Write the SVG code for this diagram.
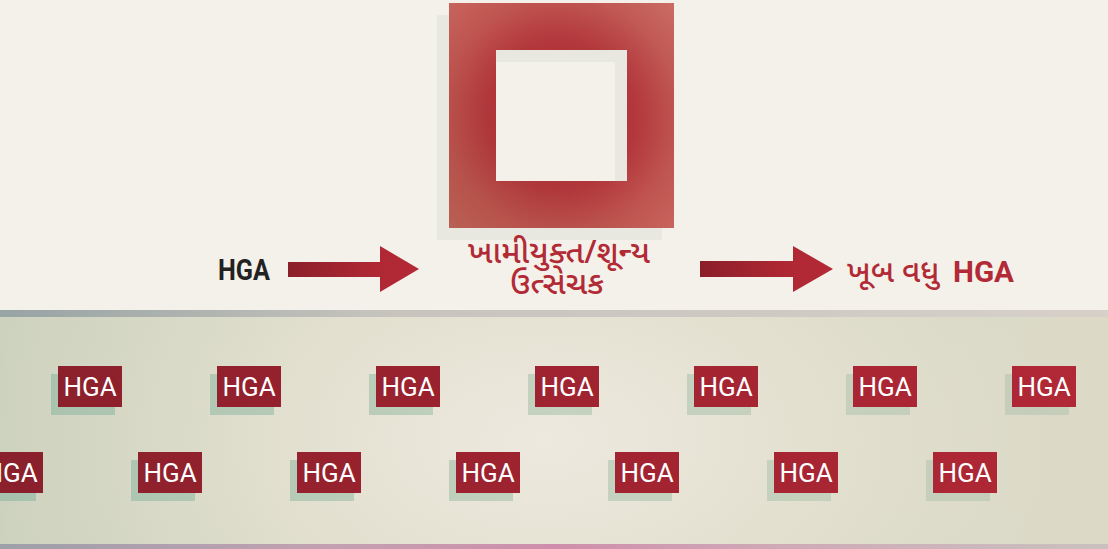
<svg xmlns="http://www.w3.org/2000/svg" width="1108" height="549" viewBox="0 0 1108 549">
<defs>
<radialGradient id="frameG" gradientUnits="userSpaceOnUse" cx="561" cy="115" r="165">
<stop offset="0" stop-color="#a82a30"/>
<stop offset="0.45" stop-color="#b3363b"/>
<stop offset="0.72" stop-color="#c05550"/>
<stop offset="1" stop-color="#c9675f"/>
</radialGradient>
<linearGradient id="frameShade" x1="0" y1="1" x2="1" y2="0">
<stop offset="0" stop-color="#7a4a30" stop-opacity="0.18"/>
<stop offset="0.5" stop-color="#7a4a30" stop-opacity="0"/>
<stop offset="1" stop-color="#ffffff" stop-opacity="0.05"/>
</linearGradient>
<linearGradient id="arrowG" gradientUnits="objectBoundingBox" x1="0" y1="0" x2="1" y2="0">
<stop offset="0" stop-color="#8a1f2a"/>
<stop offset="0.6" stop-color="#ad2733"/>
<stop offset="1" stop-color="#b42a36"/>
</linearGradient>
<radialGradient id="panelG" gradientUnits="userSpaceOnUse" cx="545" cy="440" r="600" gradientTransform="translate(545 440) scale(1 0.6) translate(-545 -440)">
<stop offset="0" stop-color="#ede9df"/>
<stop offset="0.45" stop-color="#e3e0d0"/>
<stop offset="1" stop-color="#d0d3c0"/>
</radialGradient>
<linearGradient id="panelTint" x1="0" y1="0" x2="1" y2="0">
<stop offset="0" stop-color="#c9d0bb" stop-opacity="0.6"/>
<stop offset="0.35" stop-color="#e0dfcf" stop-opacity="0"/>
<stop offset="0.7" stop-color="#e4dfcf" stop-opacity="0"/>
<stop offset="1" stop-color="#dfdbc8" stop-opacity="0.8"/>
</linearGradient>
<linearGradient id="topBar" x1="0" y1="0" x2="1" y2="0">
<stop offset="0" stop-color="#98a3a4"/>
<stop offset="0.35" stop-color="#c6c4bd"/>
<stop offset="1" stop-color="#d6d0c9"/>
</linearGradient>
<linearGradient id="botBar" x1="0" y1="0" x2="1" y2="0">
<stop offset="0" stop-color="#9da0a8"/>
<stop offset="0.3" stop-color="#c3a0b2"/>
<stop offset="0.5" stop-color="#cf8eab"/>
<stop offset="0.7" stop-color="#cfa9b6"/>
<stop offset="1" stop-color="#c9c1bf"/>
</linearGradient>
<linearGradient id="shadowG" gradientUnits="userSpaceOnUse" x1="0" y1="0" x2="1108" y2="0">
<stop offset="0" stop-color="#a6c2ad"/>
<stop offset="0.5" stop-color="#c4d2bf"/>
<stop offset="1" stop-color="#c6cdba"/>
</linearGradient>
<linearGradient id="chipG" gradientUnits="userSpaceOnUse" x1="0" y1="0" x2="1108" y2="0">
<stop offset="0" stop-color="#89202b"/>
<stop offset="0.5" stop-color="#9f2330"/>
<stop offset="1" stop-color="#b22836"/>
</linearGradient>
<style>
.lbl{font-family:"Noto Sans Gujarati","Noto Sans","Liberation Sans",sans-serif;font-weight:500;fill:#b22a35;}
.hga{font-family:Roboto,"Liberation Sans",sans-serif;font-weight:bold;font-size:29px;fill:#222222;}
.chip{fill:url(#chipG);}
.csh{fill:url(#shadowG);}
.ct{font-family:Roboto,"Liberation Sans",sans-serif;font-size:26px;fill:#ffffff;text-anchor:middle;}
</style>
</defs>
<rect x="0" y="0" width="1108" height="549" fill="#f3f1ea"/>
<g id="panel">
<rect x="0" y="317" width="1108" height="227" fill="url(#panelG)"/>
<rect x="0" y="317" width="1108" height="227" fill="url(#panelTint)"/>
<rect x="0" y="310" width="1108" height="7" fill="url(#topBar)"/>
<rect x="0" y="544" width="1108" height="5" fill="url(#botBar)"/>
</g>
<g id="enzyme">
<path d="M437 15H662V240H437Z M484 62V193H615V62Z" fill="#e8e8e0" fill-rule="evenodd"/>
<path d="M449 3H674V228H449Z M496 50V181H627V50Z" fill="url(#frameG)" fill-rule="evenodd"/>
<path d="M449 3H674V228H449Z M496 50V181H627V50Z" fill="url(#frameShade)" fill-rule="evenodd"/>
<text class="lbl" x="559" y="263" font-size="32" text-anchor="middle">ખામીયુક્ત/શૂન્ય</text>
<text class="lbl" x="557" y="294" font-size="32" text-anchor="middle">ઉત્સેચક</text>
</g>
<g id="input">
<text class="hga" x="218" y="280" textLength="52" lengthAdjust="spacingAndGlyphs">HGA</text>
</g>
<g id="output">
<text class="lbl" x="847" y="282" font-size="31">ખૂબ વધુ <tspan x="953" font-family="Roboto,'Liberation Sans',sans-serif" font-weight="bold" font-size="29" textLength="61" lengthAdjust="spacingAndGlyphs">HGA</tspan></text>
</g>
<g id="connectors">
<path d="M288 262H380V246L419 269L380 292V277H288Z" fill="url(#arrowG)"/>
<path d="M700 261H793V246L833 269L793 292V277H700Z" fill="url(#arrowG)"/>
</g>
<g id="chips">
<g id="row1">
<rect class="csh" x="51" y="374" width="64" height="41"/><rect class="chip" x="58" y="366" width="64" height="41"/><text class="ct" x="90" y="396">HGA</text>
<rect class="csh" x="210" y="374" width="64" height="41"/><rect class="chip" x="217" y="366" width="64" height="41"/><text class="ct" x="249" y="396">HGA</text>
<rect class="csh" x="369" y="374" width="64" height="41"/><rect class="chip" x="376" y="366" width="64" height="41"/><text class="ct" x="408" y="396">HGA</text>
<rect class="csh" x="528" y="374" width="64" height="41"/><rect class="chip" x="535" y="366" width="64" height="41"/><text class="ct" x="567" y="396">HGA</text>
<rect class="csh" x="687" y="374" width="64" height="41"/><rect class="chip" x="694" y="366" width="64" height="41"/><text class="ct" x="726" y="396">HGA</text>
<rect class="csh" x="846" y="374" width="64" height="41"/><rect class="chip" x="853" y="366" width="64" height="41"/><text class="ct" x="885" y="396">HGA</text>
<rect class="csh" x="1005" y="374" width="64" height="41"/><rect class="chip" x="1012" y="366" width="64" height="41"/><text class="ct" x="1044" y="396">HGA</text>
</g>
<g id="row2">
<rect class="csh" x="-28" y="460" width="64" height="41"/><rect class="chip" x="-21" y="452" width="64" height="41"/><text class="ct" x="11" y="482">HGA</text>
<rect class="csh" x="131" y="460" width="64" height="41"/><rect class="chip" x="138" y="452" width="64" height="41"/><text class="ct" x="170" y="482">HGA</text>
<rect class="csh" x="290" y="460" width="64" height="41"/><rect class="chip" x="297" y="452" width="64" height="41"/><text class="ct" x="329" y="482">HGA</text>
<rect class="csh" x="449" y="460" width="64" height="41"/><rect class="chip" x="456" y="452" width="64" height="41"/><text class="ct" x="488" y="482">HGA</text>
<rect class="csh" x="608" y="460" width="64" height="41"/><rect class="chip" x="615" y="452" width="64" height="41"/><text class="ct" x="647" y="482">HGA</text>
<rect class="csh" x="767" y="460" width="64" height="41"/><rect class="chip" x="774" y="452" width="64" height="41"/><text class="ct" x="806" y="482">HGA</text>
<rect class="csh" x="926" y="460" width="64" height="41"/><rect class="chip" x="933" y="452" width="64" height="41"/><text class="ct" x="965" y="482">HGA</text>
</g>
</g>
</svg>
